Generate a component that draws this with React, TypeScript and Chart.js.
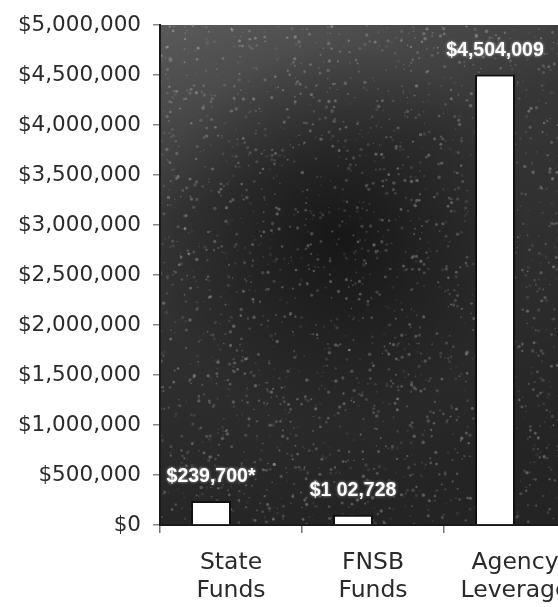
import React, { useEffect, useRef } from "react";
import { Chart, registerables } from "chart.js";

Chart.register(...registerables);

const categories: string[][] = [["State", "Funds"], ["FNSB", "Funds"], ["Agency", "Leverage"]];
const fundValues: number[] = [239700, 102728, 4504009];
const emptySeries: (number | null)[] = [null, null, null];
const barLabels: string[] = ["$239,700*", "$1 02,728", "$4,504,009"];
const yMin = 0;
const yMax = 5000000;
const yStep = 500000;

const bgPlugin = {
  id: "plotBackground",
  beforeDraw(chart: any) {
    const { ctx, chartArea } = chart;
    const { left, top, right, bottom } = chartArea;
    const w = right - left;
    const h = bottom - top;
    ctx.save();
    const lin = ctx.createLinearGradient(left, top, left + w * 0.4, bottom);
    lin.addColorStop(0, "#5a5a5a");
    lin.addColorStop(0.35, "#363636");
    lin.addColorStop(1, "#242424");
    ctx.fillStyle = lin;
    ctx.fillRect(left, top, w, h);
    const rad = ctx.createRadialGradient(left + w * 0.42, top + h * 0.42, 0, left + w * 0.42, top + h * 0.42, 190);
    rad.addColorStop(0, "rgba(0,0,0,0.55)");
    rad.addColorStop(1, "rgba(0,0,0,0)");
    ctx.fillStyle = rad;
    ctx.fillRect(left, top, w, h);
    // speckle texture (decorative)
    let s = 12345;
    const next = () => {
      s = (s * 1103515245 + 12345) % 2147483648;
      return s / 2147483648;
    };
    for (let i = 0; i < 2600; i++) {
      const x = left + next() * w;
      const y = top + next() * h;
      const a = 0.06 + next() * 0.3;
      const r = 0.6 + next() * 1.2;
      ctx.fillStyle = `rgba(200,200,200,${a})`;
      ctx.beginPath();
      ctx.arc(x, y, r, 0, Math.PI * 2);
      ctx.fill();
    }
    ctx.restore();
  },
};

const labelPlugin = {
  id: "barValueLabels",
  afterDatasetsDraw(chart: any) {
    const { ctx } = chart;
    const meta = chart.getDatasetMeta(0);
    ctx.save();
    ctx.font = "bold 19.5px 'Liberation Sans', Arial, sans-serif";
    ctx.fillStyle = "#ffffff";
    ctx.textAlign = "center";
    ctx.textBaseline = "middle";
    ctx.shadowColor = "rgba(255,255,255,0.6)";
    ctx.shadowBlur = 3;
    meta.data.forEach((bar: any, i: number) => {
      ctx.fillText(barLabels[i], bar.x, bar.y - 24);
    });
    ctx.restore();
  },
};

export default function App() {
  const canvasRef = useRef<HTMLCanvasElement | null>(null);

  useEffect(() => {
    if (!canvasRef.current) return;
    const chart = new Chart(canvasRef.current, {
      type: "bar",
      data: {
        labels: categories,
        datasets: [
          {
            label: "Funds",
            data: fundValues,
            backgroundColor: "#ffffff",
            borderColor: "#111111",
            borderWidth: 2,
            categoryPercentage: 0.563,
            barPercentage: 1,
          },
          {
            label: "",
            data: emptySeries,
            backgroundColor: "rgba(0,0,0,0)",
            borderWidth: 0,
            categoryPercentage: 0.563,
            barPercentage: 1,
          },
        ],
      },
      options: {
        responsive: false,
        animation: false,
        layout: { padding: { top: 25, right: 14, left: 0, bottom: 0 } },
        plugins: {
          legend: { display: false },
          tooltip: { enabled: false },
        },
        scales: {
          x: {
            afterFit(scale: any) {
              scale.height = 82;
            },
            grid: {
              drawOnChartArea: false,
              drawTicks: true,
              tickLength: 8,
              color: "#777777",
              lineWidth: 1.5,
            },
            border: { display: true, color: "#1a1a1a", width: 2 },
            ticks: {
              color: "#2a2a2a",
              padding: 16,
              font: { family: "'DejaVu Sans', sans-serif", size: 23.5, lineHeight: 28 / 23.5 },
              maxRotation: 0,
            },
          },
          y: {
            min: yMin,
            max: yMax,
            afterFit(scale: any) {
              scale.width = 160;
            },
            grid: {
              drawOnChartArea: false,
              drawTicks: true,
              tickLength: 7,
              color: "#888888",
              lineWidth: 1.5,
            },
            border: { display: true, color: "#1a1a1a", width: 2 },
            ticks: {
              stepSize: yStep,
              color: "#2a2a2a",
              padding: 12,
              font: { family: "'DejaVu Sans', sans-serif", size: 21.5 },
              callback: (v: any) => "$" + Number(v).toLocaleString("en-US"),
            },
          },
        },
      },
      plugins: [bgPlugin, labelPlugin],
    });
    return () => chart.destroy();
  }, []);

  return (
    <div
      style={{
        position: "fixed",
        left: 0,
        top: 0,
        width: 558,
        height: 607,
        overflow: "hidden",
        background: "#ffffff",
      }}
    >
      <canvas ref={canvasRef} width={600} height={607} style={{ display: "block" }} />
    </div>
  );
}
